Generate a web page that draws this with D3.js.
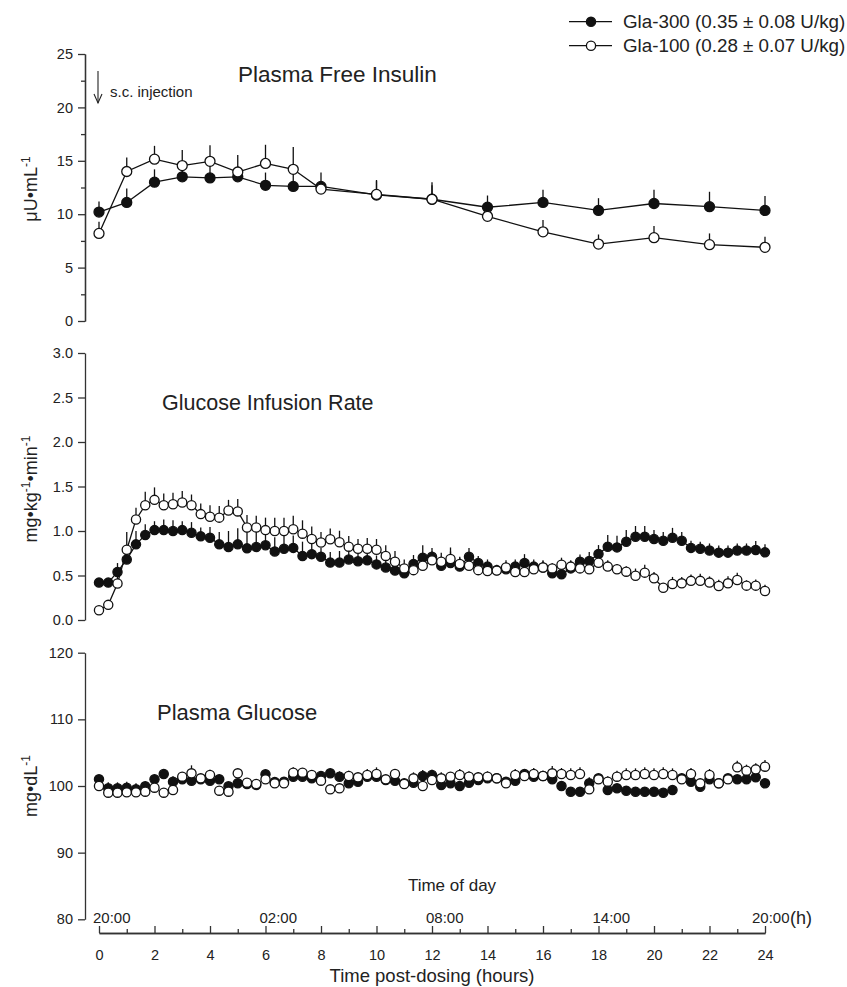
<!DOCTYPE html>
<html>
<head>
<meta charset="utf-8">
<script src="https://cdn.jsdelivr.net/npm/d3@7"></script>
<style>
  body { margin: 0; background: #fff; }
  svg { font-family: "Liberation Sans", Arial, sans-serif; }
  .axis path, .axis line { stroke: #333; stroke-width: 1.3; }
  .axis text { font-size: 14.5px; fill: #222; }
</style>
</head>
<body>
<div id="chart"></div>
<script>
// Plasma free insulin (hours post-dosing)
var insHours = [0, 1, 2, 3, 4, 5, 6, 7, 8, 10, 12, 14, 16, 18, 20, 22, 24];
var ins300 = [10.2, 11.1, 13.0, 13.5, 13.4, 13.5, 12.7, 12.6, 12.6, 11.8, 11.4, 10.65, 11.1, 10.35, 11.0, 10.7, 10.35];
var ins300Se = [1.0, 1.3, 1.2, 1.1, 1.2, 1.0, 1.2, 1.2, 1.3, 1.3, 1.3, 1.1, 1.2, 1.15, 1.3, 1.4, 1.35];
var ins100 = [8.2, 14.0, 15.15, 14.55, 14.95, 13.95, 14.75, 14.2, 12.35, 11.85, 11.4, 9.8, 8.35, 7.2, 7.8, 7.15, 6.9];
var ins100Se = [1.1, 1.3, 1.25, 1.45, 1.5, 1.6, 1.75, 2.1, 0.7, 1.35, 1.6, 0.9, 1.1, 0.9, 1.1, 1.05, 1.0];

// sampling times for GIR and glucose (minutes post-dosing)
var sampleMin = [0, 20, 40, 60, 80, 100, 120, 140, 160, 180, 200, 220, 240, 260, 280, 300, 320, 340, 360, 380,
  400, 420, 440, 460, 480, 500, 520, 540, 560, 580, 600, 620, 640, 660, 680, 700, 720, 740, 760, 780,
  800, 820, 840, 860, 880, 900, 920, 940, 960, 980, 1000, 1020, 1040, 1060, 1080, 1100, 1120, 1140, 1160, 1180,
  1200, 1220, 1240, 1260, 1280, 1300, 1320, 1340, 1360, 1380, 1400, 1420, 1440];

// Glucose infusion rate (mg/kg/min)
var gir300 = [0.42, 0.42, 0.54, 0.68, 0.85, 0.955, 1.01, 1.01, 1.0, 1.01, 0.98, 0.94, 0.925, 0.85, 0.82, 0.85, 0.805, 0.82, 0.84, 0.77,
  0.80, 0.81, 0.72, 0.74, 0.71, 0.645, 0.645, 0.68, 0.66, 0.67, 0.625, 0.59, 0.555, 0.525, 0.63, 0.70, 0.71, 0.61, 0.64, 0.60,
  0.71, 0.64, 0.60, 0.56, 0.57, 0.60, 0.64, 0.60, 0.59, 0.525, 0.515, 0.58, 0.655, 0.663, 0.742, 0.824, 0.816, 0.88, 0.936, 0.936,
  0.91, 0.89, 0.925, 0.89, 0.81, 0.80, 0.78, 0.757, 0.757, 0.78, 0.78, 0.787, 0.76];
var gir300Se = [0.03, 0.04, 0.1, 0.12, 0.15, 0.12, 0.1, 0.12, 0.12, 0.1, 0.12, 0.1, 0.12, 0.14, 0.18, 0.18, 0.22, 0.18, 0.15, 0.16,
  0.18, 0.14, 0.16, 0.14, 0.1, 0.12, 0.13, 0.12, 0.1, 0.1, 0.1, 0.1, 0.08, 0.08, 0.1, 0.14, 0.1, 0.1, 0.13, 0.1,
  0.1, 0.08, 0.08, 0.06, 0.08, 0.08, 0.1, 0.08, 0.08, 0.06, 0.06, 0.08, 0.08, 0.1, 0.1, 0.13, 0.13, 0.13, 0.12, 0.12,
  0.1, 0.1, 0.11, 0.1, 0.08, 0.08, 0.08, 0.08, 0.08, 0.08, 0.08, 0.1, 0.09];
var gir100 = [0.11, 0.17, 0.41, 0.79, 1.13, 1.29, 1.35, 1.29, 1.30, 1.32, 1.29, 1.19, 1.16, 1.15, 1.23, 1.22, 1.04, 1.04, 1.01, 1.0,
  1.0, 1.02, 0.97, 0.91, 0.87, 0.907, 0.873, 0.824, 0.80, 0.80, 0.79, 0.72, 0.655, 0.58, 0.56, 0.61, 0.67, 0.655, 0.685, 0.63,
  0.61, 0.56, 0.55, 0.555, 0.59, 0.54, 0.54, 0.57, 0.59, 0.58, 0.62, 0.60, 0.58, 0.57, 0.644, 0.60, 0.57, 0.543, 0.498, 0.532,
  0.468, 0.363, 0.404, 0.412, 0.44, 0.44, 0.42, 0.382, 0.412, 0.45, 0.386, 0.386, 0.326];
var gir100Se = [0.02, 0.03, 0.08, 0.2, 0.13, 0.15, 0.14, 0.13, 0.13, 0.13, 0.12, 0.12, 0.13, 0.13, 0.12, 0.14, 0.14, 0.13, 0.14, 0.15,
  0.15, 0.15, 0.15, 0.14, 0.12, 0.12, 0.13, 0.12, 0.11, 0.12, 0.12, 0.12, 0.12, 0.1, 0.09, 0.1, 0.1, 0.1, 0.13, 0.08,
  0.07, 0.06, 0.07, 0.06, 0.08, 0.07, 0.07, 0.07, 0.07, 0.06, 0.08, 0.07, 0.06, 0.06, 0.07, 0.07, 0.06, 0.06, 0.08, 0.09,
  0.07, 0.05, 0.08, 0.07, 0.07, 0.08, 0.07, 0.07, 0.08, 0.08, 0.06, 0.07, 0.07];

// Plasma glucose (mg/dL)
var glu300 = [101.0, 99.65, 99.65, 99.75, 99.5, 99.95, 101.0, 101.8, 100.65, 101.0, 100.8, 101.0, 100.8, 101.0, 99.95, 100.4, 100.3, 100.15, 101.75, 100.6,
  100.65, 101.4, 101.4, 101.15, 101.5, 101.9, 101.4, 100.4, 100.65, 101.4, 101.4, 100.9, 100.8, 100.4, 100.5, 101.5, 101.65, 100.15, 100.4, 100.0,
  100.5, 100.9, 101.15, 101.15, 100.65, 100.8, 101.8, 101.4, 101.5, 101.0, 100.0, 99.15, 99.15, 100.4, 101.15, 99.4, 99.65, 99.3, 99.15, 99.15,
  99.15, 99.0, 99.4, 101.15, 100.65, 99.9, 101.0, 100.4, 101.15, 101.0, 101.0, 101.3, 100.4];
var glu300Se = [0.6, 0.9, 0.9, 0.9, 0.9, 0.7, 0.7, 0.6, 0.8, 0.7, 0.6, 0.6, 0.7, 0.7, 0.6, 0.6, 0.6, 0.6, 0.7, 0.6,
  0.6, 0.6, 0.7, 0.6, 0.6, 0.7, 0.8, 0.7, 0.6, 0.8, 0.9, 0.7, 0.6, 0.7, 0.9, 0.9, 0.8, 0.7, 0.8, 0.7,
  0.9, 0.7, 0.7, 0.6, 0.6, 0.6, 0.7, 0.6, 0.7, 0.8, 0.7, 0.6, 0.6, 0.9, 0.7, 0.6, 0.6, 0.6, 0.6, 0.6,
  0.6, 0.6, 0.6, 0.7, 0.6, 0.7, 0.6, 0.8, 0.6, 0.6, 0.6, 0.6, 0.6];
var glu100 = [100.0, 99.0, 99.0, 99.05, 99.05, 99.15, 99.75, 99.0, 99.4, 101.4, 101.9, 101.15, 101.65, 99.3, 99.15, 101.9, 100.5, 100.3, 101.0, 100.4,
  100.4, 102.0, 102.0, 101.65, 100.8, 99.5, 99.65, 101.5, 101.3, 101.65, 101.8, 101.0, 101.8, 100.3, 101.15, 100.0, 100.9, 101.15, 101.4, 101.65,
  101.4, 101.3, 101.4, 101.15, 100.4, 101.65, 101.5, 101.8, 101.5, 101.9, 101.8, 101.65, 101.8, 99.5, 101.0, 100.65, 101.4, 101.65, 101.65, 101.8,
  101.65, 101.8, 101.65, 101.0, 101.8, 100.4, 101.65, 100.4, 101.0, 102.8, 102.3, 102.5, 102.9];
var glu100Se = [0.6, 0.6, 0.6, 0.6, 0.6, 0.6, 0.7, 0.6, 0.6, 0.7, 1.2, 0.7, 0.8, 0.6, 0.6, 0.7, 0.6, 0.6, 0.7, 0.6,
  0.6, 0.8, 0.7, 0.7, 0.7, 0.6, 0.6, 0.8, 0.7, 0.9, 1.0, 0.7, 0.7, 0.6, 0.9, 0.7, 0.7, 0.9, 0.7, 0.9,
  0.8, 0.8, 0.8, 0.8, 0.7, 0.9, 0.7, 0.9, 0.8, 1.1, 0.9, 1.0, 1.0, 0.7, 0.7, 0.8, 0.9, 1.0, 1.0, 1.0,
  1.0, 1.0, 1.0, 0.8, 0.9, 0.7, 0.9, 0.7, 0.8, 1.0, 0.9, 0.9, 1.0];

var xTicks = [0, 2, 4, 6, 8, 10, 12, 14, 16, 18, 20, 22, 24];
var xMinorTicks = [1, 3, 5, 7, 9, 11, 13, 15, 17, 19, 21, 23];
var clockLabels = ["20:00", "02:00", "08:00", "14:00", "20:00"];
var clockHours = [0, 6, 12, 18, 24];
var seriesNames = ["Gla-300 (0.35 \u00b1 0.08 U/kg)", "Gla-100 (0.28 \u00b1 0.07 U/kg)"];

function init() {
  var w = 847, h = 987;
  var axisX = 85;

  var svg = d3.select("#chart").append("svg")
    .attr("width", w)
    .attr("height", h);

  var x = d3.scaleLinear().domain([0, 24]).range([99, 765]);
  var hrs = sampleMin.map(function (m) { return m / 60; });

  var panels = [
    { y: d3.scaleLinear().domain([0, 25]).range([321, 54]), ticks: [0, 5, 10, 15, 20, 25], minor: [2.5, 7.5, 12.5, 17.5, 22.5], fmt: d3.format("d"),
      title: "Plasma Free Insulin", tx: 238, ty: 82, fs: 22.5, label: "\u03bcU\u2022mL", labelSup: "-1", ly: 189, line: true,
      xs: insHours, a: ins300, aSe: ins300Se, b: ins100, bSe: ins100Se, r: 5 },
    { y: d3.scaleLinear().domain([0, 3]).range([620, 353]), ticks: [0, 0.5, 1, 1.5, 2, 2.5, 3], minor: [], fmt: d3.format(".1f"),
      title: "Glucose Infusion Rate", tx: 162, ty: 410, fs: 21.5, label: null, ly: 489, line: true,
      xs: hrs, a: gir300, aSe: gir300Se, b: gir100, bSe: gir100Se, r: 4.6 },
    { y: d3.scaleLinear().domain([80, 120]).range([919.3, 652.7]), ticks: [80, 90, 100, 110, 120], minor: [], fmt: d3.format("d"),
      title: "Plasma Glucose", tx: 157, ty: 720, fs: 22, label: "mg\u2022dL", labelSup: "-1", ly: 786, line: false,
      xs: hrs, a: glu300, aSe: glu300Se, b: glu100, bSe: glu100Se, r: 4.6 }
  ];

  panels.forEach(function (p) {
    svg.append("g")
      .attr("class", "axis")
      .attr("transform", "translate(" + axisX + ",0)")
      .call(d3.axisLeft(p.y).tickValues(p.ticks).tickFormat(p.fmt).tickSize(7).tickSizeOuter(0).tickPadding(5));

    if (p.minor.length) {
      svg.append("g")
        .attr("class", "axis")
        .attr("transform", "translate(" + axisX + ",0)")
        .call(d3.axisLeft(p.y).tickValues(p.minor).tickFormat("").tickSize(4).tickSizeOuter(0));
    }

    svg.append("text")
      .attr("x", p.tx)
      .attr("y", p.ty)
      .attr("font-size", p.fs)
      .attr("fill", "#222")
      .text(p.title);

    // y label
    var lab = svg.append("text")
      .attr("transform", "translate(37," + p.ly + ") rotate(-90)")
      .attr("text-anchor", "middle")
      .attr("font-size", 18)
      .attr("fill", "#222");
    if (p.label) {
      lab.append("tspan").text(p.label);
      lab.append("tspan").attr("font-size", 12).attr("dy", -7).text(p.labelSup);
    } else {
      lab.append("tspan").text("mg\u2022kg");
      lab.append("tspan").attr("font-size", 12).attr("dy", -7).text("-1");
      lab.append("tspan").attr("dy", 7).text("\u2022min");
      lab.append("tspan").attr("font-size", 12).attr("dy", -7).text("-1");
    }

    var series = [
      { v: p.a, se: p.aSe, fill: "#111" },
      { v: p.b, se: p.bSe, fill: "#fff" }
    ];

    series.forEach(function (s) {
      var pts = p.xs.map(function (t, i) { return [t, s.v[i], s.se[i]]; });
      var g = svg.append("g");

      g.selectAll("line.err")
        .data(pts)
        .enter()
        .append("line")
        .attr("x1", function (d) { return x(d[0]); })
        .attr("x2", function (d) { return x(d[0]); })
        .attr("y1", function (d) { return p.y(d[1]); })
        .attr("y2", function (d) { return p.y(d[1] + d[2]); })
        .attr("stroke", "#111")
        .attr("stroke-width", 1.3);

      if (p.line) {
        g.append("path")
          .datum(pts)
          .attr("d", d3.line()
            .x(function (d) { return x(d[0]); })
            .y(function (d) { return p.y(d[1]); }))
          .attr("fill", "none")
          .attr("stroke", "#111")
          .attr("stroke-width", 1.3);
      }

      g.selectAll("circle")
        .data(pts)
        .enter()
        .append("circle")
        .attr("cx", function (d) { return x(d[0]); })
        .attr("cy", function (d) { return p.y(d[1]); })
        .attr("r", p.r)
        .attr("fill", s.fill)
        .attr("stroke", "#111")
        .attr("stroke-width", 1.3);
    });
  });

  // x axis
  var xAxisY = 933;
  svg.append("g")
    .attr("class", "axis")
    .attr("transform", "translate(0," + xAxisY + ")")
    .call(d3.axisBottom(x).tickValues(xTicks).tickFormat(d3.format("d")).tickSize(-7).tickSizeOuter(0).tickPadding(17));
  svg.append("g")
    .attr("class", "axis")
    .attr("transform", "translate(0," + xAxisY + ")")
    .call(d3.axisBottom(x).tickValues(xMinorTicks).tickFormat("").tickSize(-4).tickSizeOuter(0));

  svg.append("text")
    .attr("x", 432)
    .attr("y", 982)
    .attr("text-anchor", "middle")
    .attr("font-size", 18.5)
    .attr("fill", "#222")
    .text("Time post-dosing (hours)");

  svg.append("text")
    .attr("x", 452)
    .attr("y", 891)
    .attr("text-anchor", "middle")
    .attr("font-size", 17)
    .attr("fill", "#222")
    .text("Time of day");

  svg.selectAll("text.clock")
    .data(clockHours)
    .enter()
    .append("text")
    .attr("class", "clock")
    .attr("x", function (d, i) { return i === 4 ? x(d) - 13 : x(d) - 6; })
    .attr("y", 923)
    .attr("font-size", 15)
    .attr("fill", "#222")
    .text(function (d, i) { return clockLabels[i]; });
  svg.append("text")
    .attr("x", x(24) + 25)
    .attr("y", 924)
    .attr("font-size", 18)
    .attr("fill", "#222")
    .text("(h)");

  // injection arrow
  svg.append("line")
    .attr("x1", 98).attr("x2", 98)
    .attr("y1", 71).attr("y2", 103)
    .attr("stroke", "#222").attr("stroke-width", 1.1);
  svg.append("path")
    .attr("d", "M94,94 L98,103 L102,94")
    .attr("fill", "none")
    .attr("stroke", "#222")
    .attr("stroke-width", 1.1);
  svg.append("text")
    .attr("x", 110)
    .attr("y", 97)
    .attr("font-size", 15)
    .attr("fill", "#222")
    .text("s.c. injection");

  // legend
  var legend = svg.append("g");
  seriesNames.forEach(function (name, i) {
    var ly = 21.7 + i * 24;
    legend.append("line")
      .attr("x1", 569).attr("x2", 612)
      .attr("y1", ly).attr("y2", ly)
      .attr("stroke", "#111").attr("stroke-width", 1.3);
    legend.append("circle")
      .attr("cx", 591).attr("cy", ly).attr("r", 4.6)
      .attr("fill", i === 0 ? "#111" : "#fff")
      .attr("stroke", "#111").attr("stroke-width", 1.3);
    legend.append("text")
      .attr("x", 623)
      .attr("y", ly + 6.5)
      .attr("font-size", 18.8)
      .attr("fill", "#222")
      .text(name);
  });
}

window.onload = init;
</script>
</body>
</html>
